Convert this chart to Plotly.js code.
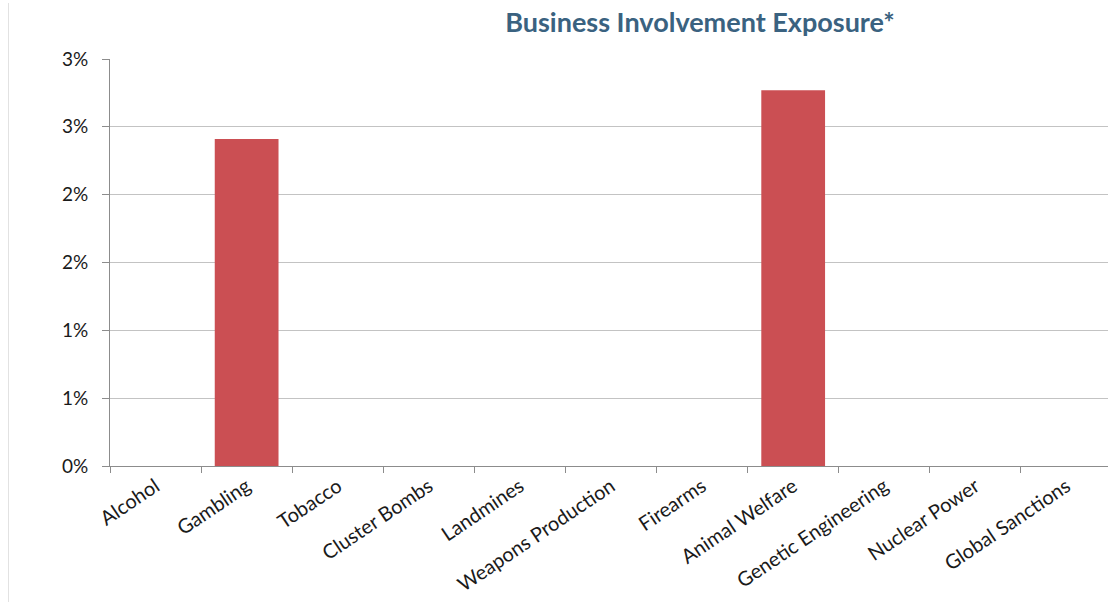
<!DOCTYPE html>
<html>
<head>
<meta charset="utf-8">
<script src="https://cdn.plot.ly/plotly-3.0.1.min.js"></script>
<style>
html,body{margin:0;padding:0;overflow:hidden;background:#fff;}
#frame{position:absolute;left:8px;top:3px;width:1px;height:599px;background:#e2e2e2;}
#chart{position:absolute;left:0;top:0;width:1113px;height:602px;}
</style>
</head>
<body>
<div id="chart"></div>
<div id="frame"></div>
<script>
const categories = ["Alcohol","Gambling","Tobacco","Cluster Bombs","Landmines","Weapons Production","Firearms","Animal Welfare","Genetic Engineering","Nuclear Power","Global Sanctions"];
const exposure = [0, 2.41, 0, 0, 0, 0, 0, 2.77, 0, 0, 0];
const yTickVals = [0, 0.5, 1, 1.5, 2, 2.5, 3];
const yTickText = ["0%","1%","1%","2%","2%","3%","3%"];

const data = [{
  type: "bar",
  x: categories,
  y: exposure,
  marker: {color: "#CB4F53", line: {width: 0}},
  hoverinfo: "x+y"
}];

const layout = {
  width: 1113, height: 602,
  margin: {l: 110, r: 1, t: 59, b: 136, pad: 0},
  paper_bgcolor: "#ffffff", plot_bgcolor: "#ffffff",
  bargap: 0.3,
  showlegend: false,
  font: {family: "Lato, 'Open Sans', sans-serif", size: 18, color: "#1a1a1a"},
  title: {
    text: "<b>Business Involvement Exposure*</b>",
    font: {family: "Lato, 'Open Sans', sans-serif", size: 27, color: "#3A6280"},
    xref: "container", yref: "container",
    x: 700/1113, xanchor: "center",
    y: 1 - 23/602, yanchor: "middle"
  },
  xaxis: {
    type: "category",
    showgrid: false,
    showline: true, linecolor: "#8c8c8c", linewidth: 1,
    ticks: "outside", ticklen: 6, tickcolor: "#8c8c8c", tickwidth: 1,
    tickson: "boundaries",
    tickangle: -34,
    tickfont: {family: "Lato, 'Open Sans', sans-serif", size: 20, color: "#1a1a1a"},
    fixedrange: true
  },
  yaxis: {
    range: [0, 3],
    tickvals: yTickVals, ticktext: yTickText,
    showgrid: true, gridcolor: "#c3c3c3", gridwidth: 1,
    zeroline: false,
    showline: true, linecolor: "#8c8c8c", linewidth: 1,
    ticks: "outside", ticklen: 7, tickcolor: "#8c8c8c", tickwidth: 1,
    ticklabelstandoff: 10,
    tickfont: {family: "Lato, 'Open Sans', sans-serif", size: 19, color: "#1a1a1a"},
    fixedrange: true
  }
};

Plotly.newPlot("chart", data, layout, {displayModeBar: false, staticPlot: true});
</script>
</body>
</html>
